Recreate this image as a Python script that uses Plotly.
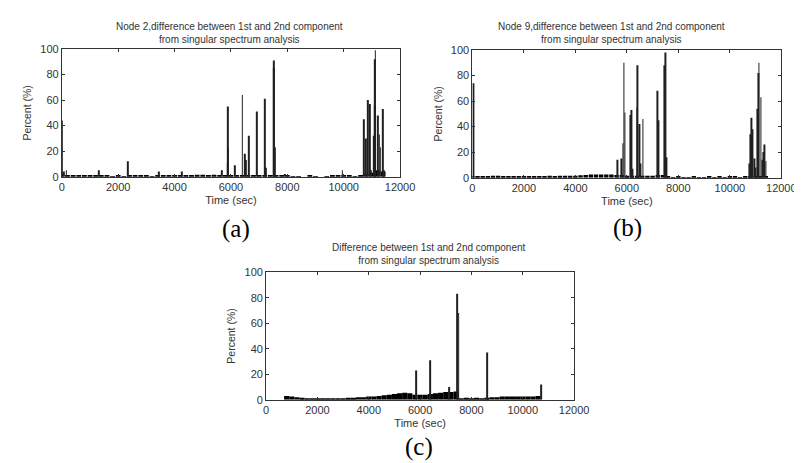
import plotly.graph_objects as go

# ---------------- data ----------------
# common baseline sampling (sec)
base_t_ab = list(range(0, 12000, 200))
base_t_c = list(range(800, 10800, 200))

# Panel (a): Node 2
base_a = [2.5, 1, 0.5, 0.5, 1, 1, 1, 1, 0.5, 0.3,
          0.5, 0.3, 1, 0.8, 0.5, 0.5, 0.3, 0.5, 0.5, 0.5,
          0.5, 0.8, 0.5, 1, 1.5, 1.5, 1.2, 1.5, 1, 1,
          1.2, 1, 1, 0.8, 0.5, 0.5, 0.5, 0.8, 0.5, 1,
          0.5, 0.3, 0.3, 0, 0.5, 0.3, 0, 0.3, 0.5, 0.5,
          0.8, 0.5, 0.3, 0.5, 2, 3, 5, 4, 0, 0]
spike_a_t = [20, 60, 160, 1320, 2330, 3430, 4250, 5680, 5870, 5890, 5910, 6150,
             6405, 6500, 6530, 6636, 6926, 7215, 7240, 7516, 7530, 7560, 7900, 9950,
             10720, 10776, 10857, 10915, 10973, 11055, 11090, 11110, 11122,
             11204, 11262, 11300, 11377, 11430]
spike_a_v = [44, 4, 5, 5, 12, 4, 4, 5, 11, 55, 22, 9,
             64, 18, 13, 32, 51, 61, 7, 91, 85, 23, 2, 5,
             45, 30, 60, 57, 5, 32, 56, 92, 99,
             48, 33, 23, 53, 5]

# Panel (b): Node 9
base_b = [1, 1, 1, 1.2, 1.5, 1.5, 1.2, 1, 1.2, 1,
          1.2, 1.2, 1, 1.2, 1.2, 1.5, 1.2, 1.5, 1.5, 1.5,
          1.5, 1.8, 2, 2.5, 2.5, 2.5, 2.5, 2.5, 2, 2,
          1.5, 1.5, 1.5, 1.5, 1.5, 1.5, 2, 2, 0.5, 0.3,
          0.5, 0.3, 0.3, 0.5, 0.3, 0.3, 0.5, 0.3, 0.5, 0.3,
          0.5, 0.5, 0.3, 0.5, 1, 1, 1, 1, 0, 0]
spike_b_t = [25, 5633, 5785, 5850, 5886, 5924, 6139, 6177, 6215, 6392, 6418,
             6494, 6519, 6620, 7190, 7215, 7468, 7494, 7532,
             10760, 10798, 10836, 10886, 10950, 10990, 11076, 11110, 11128,
             11204, 11265, 11300, 11356, 11400]
spike_b_v = [74, 14, 15, 27, 90, 51, 49, 53, 7, 55, 88,
             42, 11, 46, 68, 45, 88, 98, 16,
             11, 34, 47, 38, 15, 8, 54, 82, 90,
             63, 14, 20, 26, 13]

# Panel (c): overall
base_c = [3, 2.5, 2, 1.5, 1, 0.5, 1, 0.5, 0.8, 1,
          1.2, 1.2, 1.5, 1.5, 2, 2, 2.5, 2.5, 3, 3.5,
          4, 4.5, 5, 5.5, 5, 4, 4, 4, 4.5, 5,
          5.5, 6, 6, 6.5, 1, 1.5, 1, 1.5, 1, 1.5,
          2, 2, 2.5, 2.5, 2.5, 2.5, 2.5, 2.5, 2.5, 3]
spike_c_t = [5847, 6381, 7144, 7449, 7500, 8606, 10703]
spike_c_v = [23, 31, 10, 83, 68, 37, 12]

titles = ["Node 2,difference between 1st and 2nd component<br>from singular spectrum analysis",
          "Node 9,difference between 1st and 2nd component<br>from singular spectrum analysis",
          "Difference between 1st and 2nd component<br>from singular spectrum analysis"]
panel_labels = ["(a)", "(b)", "(c)"]
x_ticks = [0, 2000, 4000, 6000, 8000, 10000, 12000]
y_ticks = [0, 20, 40, 60, 80, 100]

# ---------------- layout geometry (pixels) ----------------
W, H = 802, 463
boxes = [(52, 398, 36, 167), (472, 788, 37, 168), (261, 576, 265, 396)]
title_pos = [(224, 19), (614, 19), (428, 246)]
label_pos = [(230, 221), (631, 220), (417, 445)]

fig = go.Figure()
panels = [(base_t_ab, base_a, spike_a_t, spike_a_v),
          (base_t_ab, base_b, spike_b_t, spike_b_v),
          (base_t_c, base_c, spike_c_t, spike_c_v)]

for i, (bt, bv, st, sv) in enumerate(panels):
    xa = "x" if i == 0 else f"x{i+1}"
    ya = "y" if i == 0 else f"y{i+1}"
    bw = 200 if i == 2 else 170
    fig.add_trace(go.Bar(x=bt, y=bv, width=bw, marker=dict(color="black", line=dict(width=0)),
                         xaxis=xa, yaxis=ya, showlegend=False))
    fig.add_trace(go.Bar(x=st, y=sv, width=30, marker=dict(color="#202020", line=dict(width=0)),
                         xaxis=xa, yaxis=ya, showlegend=False))

axis_font = dict(family="Liberation Sans, Arial, sans-serif", size=11, color="#333")
layout = dict(width=W, height=H, margin=dict(l=0, r=0, t=0, b=0),
              paper_bgcolor="white", plot_bgcolor="white", barmode="overlay",
              showlegend=False, annotations=[])

for i, (x0, x1, y0, y1) in enumerate(boxes):
    sfx = "" if i == 0 else str(i + 1)
    layout["xaxis" + sfx] = dict(
        domain=[x0 / W, x1 / W], range=[0, 12000], anchor="y" + sfx,
        tickvals=x_ticks, ticktext=[str(v) for v in x_ticks],
        ticks="inside", ticklen=3, tickcolor="#333", showgrid=False, zeroline=False,
        showline=True, linecolor="#333", linewidth=1, mirror="ticks",
        tickfont=axis_font, title=dict(text="Time (sec)", font=axis_font, standoff=4))
    layout["yaxis" + sfx] = dict(
        domain=[1 - y1 / H, 1 - y0 / H], range=[0, 100], anchor="x" + sfx,
        tickvals=y_ticks, ticks="inside", ticklen=3, tickcolor="#333",
        showgrid=False, zeroline=False,
        showline=True, linecolor="#333", linewidth=1, mirror="ticks",
        tickfont=axis_font, title=dict(text="Percent (%)", font=dict(family=axis_font["family"], size=10.5, color="#333"), standoff=6))
    tx, ty = title_pos[i]
    layout["annotations"].append(dict(
        text=titles[i], x=tx / W, y=1 - ty / H, xref="paper", yref="paper",
        xanchor="center", yanchor="middle", showarrow=False, align="center",
        font=dict(family="Liberation Sans, Arial, sans-serif", size=10, color="#333")))
    lx, ly = label_pos[i]
    layout["annotations"].append(dict(
        text=panel_labels[i], x=lx / W, y=1 - ly / H, xref="paper", yref="paper",
        xanchor="center", yanchor="middle", showarrow=False,
        font=dict(family="Liberation Serif, Times New Roman, serif", size=25, color="black")))

fig.update_layout(**layout)
fig.write_html("out.html")
